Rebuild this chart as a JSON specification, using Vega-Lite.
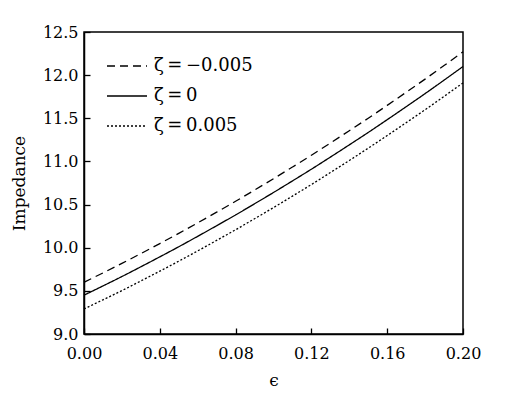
{
  "$schema": "https://vega.github.io/schema/vega-lite/v6.json",
  "width": 379,
  "height": 302,
  "autosize": {"type": "none"},
  "padding": {"left": 84, "top": 32, "right": 64, "bottom": 62},
  "background": "white",
  "config": {
    "font": "DejaVu Serif",
    "view": {"stroke": "black", "strokeWidth": 1.5},
    "axis": {
      "domainColor": "black",
      "domainWidth": 1.5,
      "tickColor": "black",
      "tickWidth": 1.3,
      "tickSize": -6,
      "labelColor": "black",
      "labelFont": "DejaVu Serif",
      "labelFontSize": 16,
      "titleFont": "DejaVu Serif",
      "titleFontSize": 17,
      "titleFontWeight": "normal",
      "titleColor": "black",
      "grid": false
    },
    "legend": {
      "labelFont": "DejaVu Serif",
      "labelFontSize": 18,
      "labelColor": "black"
    }
  },
  "data": {
    "values": [
      {"eps": 0.00, "z": "ζ\u2009=\u2009−0.005", "imp": 9.600},
      {"eps": 0.01, "z": "ζ\u2009=\u2009−0.005", "imp": 9.708},
      {"eps": 0.02, "z": "ζ\u2009=\u2009−0.005", "imp": 9.818},
      {"eps": 0.03, "z": "ζ\u2009=\u2009−0.005", "imp": 9.932},
      {"eps": 0.04, "z": "ζ\u2009=\u2009−0.005", "imp": 10.048},
      {"eps": 0.05, "z": "ζ\u2009=\u2009−0.005", "imp": 10.166},
      {"eps": 0.06, "z": "ζ\u2009=\u2009−0.005", "imp": 10.288},
      {"eps": 0.07, "z": "ζ\u2009=\u2009−0.005", "imp": 10.412},
      {"eps": 0.08, "z": "ζ\u2009=\u2009−0.005", "imp": 10.538},
      {"eps": 0.09, "z": "ζ\u2009=\u2009−0.005", "imp": 10.668},
      {"eps": 0.10, "z": "ζ\u2009=\u2009−0.005", "imp": 10.800},
      {"eps": 0.11, "z": "ζ\u2009=\u2009−0.005", "imp": 10.935},
      {"eps": 0.12, "z": "ζ\u2009=\u2009−0.005", "imp": 11.072},
      {"eps": 0.13, "z": "ζ\u2009=\u2009−0.005", "imp": 11.213},
      {"eps": 0.14, "z": "ζ\u2009=\u2009−0.005", "imp": 11.356},
      {"eps": 0.15, "z": "ζ\u2009=\u2009−0.005", "imp": 11.501},
      {"eps": 0.16, "z": "ζ\u2009=\u2009−0.005", "imp": 11.650},
      {"eps": 0.17, "z": "ζ\u2009=\u2009−0.005", "imp": 11.801},
      {"eps": 0.18, "z": "ζ\u2009=\u2009−0.005", "imp": 11.954},
      {"eps": 0.19, "z": "ζ\u2009=\u2009−0.005", "imp": 12.111},
      {"eps": 0.20, "z": "ζ\u2009=\u2009−0.005", "imp": 12.270},
      {"eps": 0.00, "z": "ζ\u2009=\u20090", "imp": 9.450},
      {"eps": 0.01, "z": "ζ\u2009=\u20090", "imp": 9.557},
      {"eps": 0.02, "z": "ζ\u2009=\u20090", "imp": 9.666},
      {"eps": 0.03, "z": "ζ\u2009=\u20090", "imp": 9.779},
      {"eps": 0.04, "z": "ζ\u2009=\u20090", "imp": 9.894},
      {"eps": 0.05, "z": "ζ\u2009=\u20090", "imp": 10.011},
      {"eps": 0.06, "z": "ζ\u2009=\u20090", "imp": 10.132},
      {"eps": 0.07, "z": "ζ\u2009=\u20090", "imp": 10.255},
      {"eps": 0.08, "z": "ζ\u2009=\u20090", "imp": 10.380},
      {"eps": 0.09, "z": "ζ\u2009=\u20090", "imp": 10.509},
      {"eps": 0.10, "z": "ζ\u2009=\u20090", "imp": 10.640},
      {"eps": 0.11, "z": "ζ\u2009=\u20090", "imp": 10.774},
      {"eps": 0.12, "z": "ζ\u2009=\u20090", "imp": 10.910},
      {"eps": 0.13, "z": "ζ\u2009=\u20090", "imp": 11.050},
      {"eps": 0.14, "z": "ζ\u2009=\u20090", "imp": 11.192},
      {"eps": 0.15, "z": "ζ\u2009=\u20090", "imp": 11.336},
      {"eps": 0.16, "z": "ζ\u2009=\u20090", "imp": 11.484},
      {"eps": 0.17, "z": "ζ\u2009=\u20090", "imp": 11.634},
      {"eps": 0.18, "z": "ζ\u2009=\u20090", "imp": 11.786},
      {"eps": 0.19, "z": "ζ\u2009=\u20090", "imp": 11.942},
      {"eps": 0.20, "z": "ζ\u2009=\u20090", "imp": 12.100},
      {"eps": 0.00, "z": "ζ\u2009=\u20090.005", "imp": 9.290},
      {"eps": 0.01, "z": "ζ\u2009=\u20090.005", "imp": 9.396},
      {"eps": 0.02, "z": "ζ\u2009=\u20090.005", "imp": 9.503},
      {"eps": 0.03, "z": "ζ\u2009=\u20090.005", "imp": 9.615},
      {"eps": 0.04, "z": "ζ\u2009=\u20090.005", "imp": 9.728},
      {"eps": 0.05, "z": "ζ\u2009=\u20090.005", "imp": 9.844},
      {"eps": 0.06, "z": "ζ\u2009=\u20090.005", "imp": 9.963},
      {"eps": 0.07, "z": "ζ\u2009=\u20090.005", "imp": 10.085},
      {"eps": 0.08, "z": "ζ\u2009=\u20090.005", "imp": 10.208},
      {"eps": 0.09, "z": "ζ\u2009=\u20090.005", "imp": 10.336},
      {"eps": 0.10, "z": "ζ\u2009=\u20090.005", "imp": 10.465},
      {"eps": 0.11, "z": "ζ\u2009=\u20090.005", "imp": 10.598},
      {"eps": 0.12, "z": "ζ\u2009=\u20090.005", "imp": 10.732},
      {"eps": 0.13, "z": "ζ\u2009=\u20090.005", "imp": 10.871},
      {"eps": 0.14, "z": "ζ\u2009=\u20090.005", "imp": 11.011},
      {"eps": 0.15, "z": "ζ\u2009=\u20090.005", "imp": 11.154},
      {"eps": 0.16, "z": "ζ\u2009=\u20090.005", "imp": 11.300},
      {"eps": 0.17, "z": "ζ\u2009=\u20090.005", "imp": 11.449},
      {"eps": 0.18, "z": "ζ\u2009=\u20090.005", "imp": 11.599},
      {"eps": 0.19, "z": "ζ\u2009=\u20090.005", "imp": 11.754},
      {"eps": 0.20, "z": "ζ\u2009=\u20090.005", "imp": 11.910}
    ]
  },
  "mark": {"type": "line", "color": "black", "strokeWidth": 1.3, "interpolate": "monotone"},
  "encoding": {
    "x": {
      "field": "eps", "type": "quantitative",
      "scale": {"domain": [0, 0.2], "nice": false, "zero": false},
      "axis": {"title": "ϵ", "values": [0, 0.04, 0.08, 0.12, 0.16, 0.2], "format": ".2f", "labelPadding": 17, "titlePadding": 11, "labelFlush": false}
    },
    "y": {
      "field": "imp", "type": "quantitative",
      "scale": {"domain": [9, 12.5], "nice": false, "zero": false},
      "axis": {"title": "Impedance", "values": [9, 9.5, 10, 10.5, 11, 11.5, 12, 12.5], "format": ".1f", "labelPadding": 12, "titlePadding": 14, "labelFlush": false}
    },
    "strokeDash": {
      "field": "z", "type": "nominal",
      "scale": {"domain": ["ζ\u2009=\u2009−0.005", "ζ\u2009=\u20090", "ζ\u2009=\u20090.005"], "range": [[8, 5], [1, 0], [2, 2]]},
      "legend": {
        "title": null,
        "orient": "none",
        "legendX": 22,
        "legendY": 13,
        "symbolType": "stroke",
        "symbolSize": 1600,
        "symbolStrokeWidth": 1.3,
        "symbolStrokeColor": "black",
        "rowPadding": -16,
        "labelOffset": 6
      }
    }
  }
}
